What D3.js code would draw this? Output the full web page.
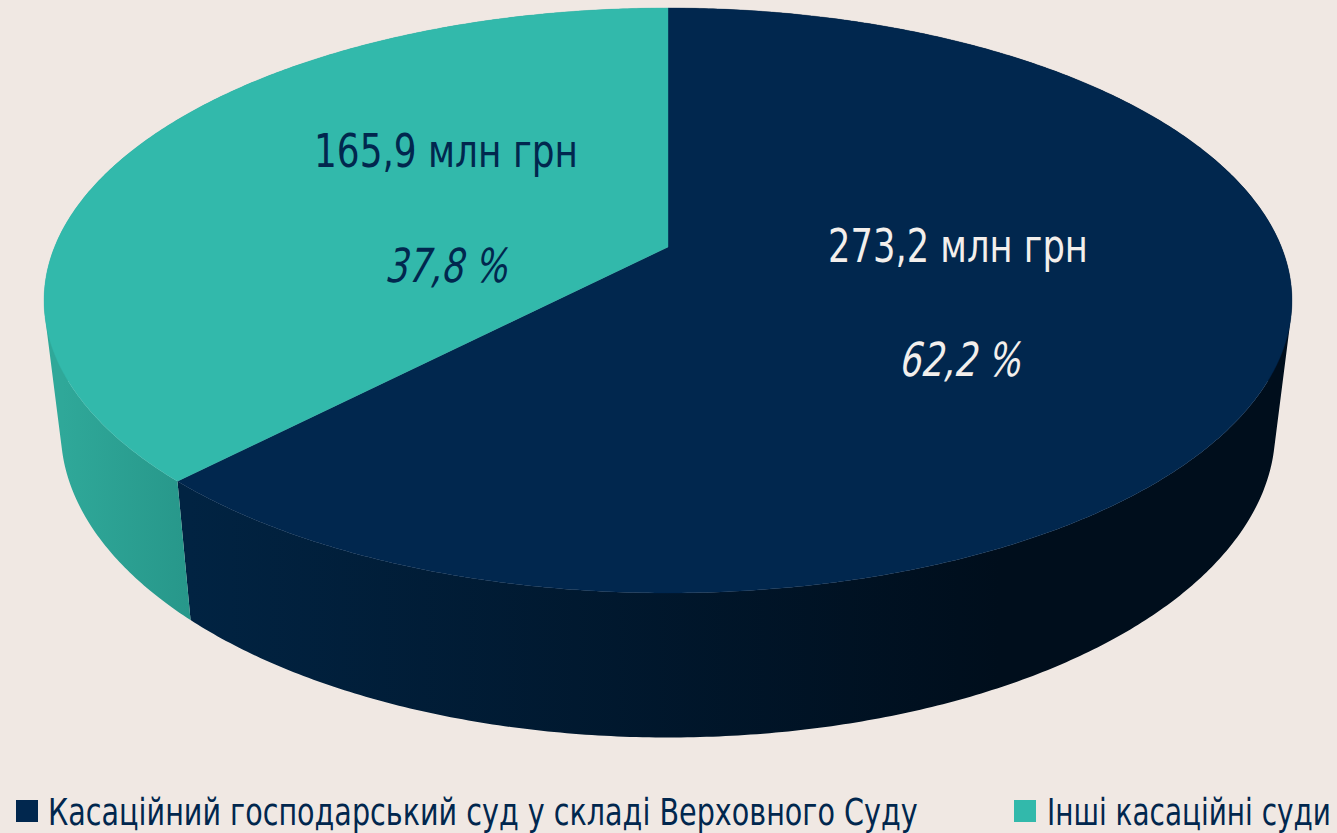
<!DOCTYPE html>
<html><head><meta charset="utf-8">
<script src="https://cdn.jsdelivr.net/npm/d3@7"></script>
<style>html,body{margin:0;padding:0;background:#f0e8e3;overflow:hidden}svg{display:block}
text{font-family:"DejaVu Sans","Noto Sans",sans-serif}</style></head>
<body><svg id="c" width="1337" height="833"></svg>
<script>
const categories=["Касаційний господарський суд у складі Верховного Суду","Інші касаційні суди"];
const values=[273.2,165.9];
const amountLabels=["273,2 млн грн","165,9 млн грн"];
const shareLabels=["62,2 %","37,8 %"];
const colors=["#01274e","#32b9ab"];
const wallLeft=["#012342","#2fa899"];
const wallRight=["#000e1c","#27978a"];

const W=1337,H=833;
const svg=d3.select("#c");
svg.append("rect").attr("width",W).attr("height",H).attr("fill","#f0e8e3");

// perspective projection of a unit disc onto the page
const k=0.1829;
const topDisc={cx:668,y0:247,a:613.4,b:282.7};
const baseDisc={cx:668,y0:374,a:597,b:297};
const project=(d,t)=>{const u=Math.sin(t),v=Math.cos(t),w=1+k*v;return [d.cx+d.a*u/w,d.y0-d.b*v/w];};

const arcs=d3.pie().sort(null).startAngle(0).endAngle(2*Math.PI)(values);
const line=d3.line();
const defs=svg.append("defs");
const STEP=Math.PI/360;
const stepsOf=d=>{const n=Math.ceil((d.endAngle-d.startAngle)/STEP);return d3.range(n+1).map(i=>d.startAngle+(d.endAngle-d.startAngle)*i/n);};

arcs.forEach((d,i)=>{
  const g=defs.append("linearGradient").attr("id","wall"+i).attr("gradientUnits","userSpaceOnUse")
    .attr("x1",i==0?190:62).attr("x2",i==0?1000:190).attr("y1",0).attr("y2",0);
  g.append("stop").attr("offset",0).attr("stop-color",wallLeft[i]);
  g.append("stop").attr("offset",1).attr("stop-color",wallRight[i]);
});

// side walls: every slice's quads are one path, wound the same way, so no seams appear
const walls=svg.append("g");
arcs.forEach((d,i)=>{
  const path=d3.pairs(stepsOf(d)).map(([t0,t1])=>{
    const q=[project(topDisc,t0),project(topDisc,t1),project(baseDisc,t1),project(baseDisc,t0)];
    if(d3.polygonArea(q)<0) q.reverse();
    return line(q)+"Z";
  }).join("");
  walls.append("path").attr("d",path).attr("fill",`url(#wall${i})`);
});
// top faces
svg.append("g").selectAll("path").data(arcs).join("path")
  .attr("d",d=>line([[topDisc.cx,topDisc.y0],...stepsOf(d).map(t=>project(topDisc,t))])+"Z")
  .attr("fill",(d,i)=>colors[i]).attr("stroke",(d,i)=>colors[i]).attr("stroke-width",0.4);

// text squeezed to a measured width, with a true bounding box
const fitted=(s,x,y,width,size,fill,italic)=>{
  const t=svg.append("text").attr("font-size",size).attr("fill",fill).attr("font-style",italic?"italic":"normal").text(s);
  const natural=t.node().getComputedTextLength();
  t.attr("transform",`translate(${x},${y}) ${italic?"skewX(-6) ":""}scale(${width/natural},1)`);
};
const labelColor=["#f3efec","#01274e"];
const amountPos=[[828,262,260],[314,167,264]];
const sharePos=[[900,376,122],[387,282,122]];
amountLabels.forEach((s,i)=>fitted(s,amountPos[i][0],amountPos[i][1],amountPos[i][2],47,labelColor[i],false));
shareLabels.forEach((s,i)=>fitted(s,sharePos[i][0],sharePos[i][1],sharePos[i][2],47,labelColor[i],true));

// legend
const legendX=[16,1014],legendText=[[48,870],[1047,284]];
categories.forEach((s,i)=>{
  svg.append("rect").attr("x",legendX[i]).attr("y",800).attr("width",22).attr("height",22).attr("fill",colors[i]);
  fitted(s,legendText[i][0],825,legendText[i][1],38,"#01274e",false);
});
</script></body></html>
